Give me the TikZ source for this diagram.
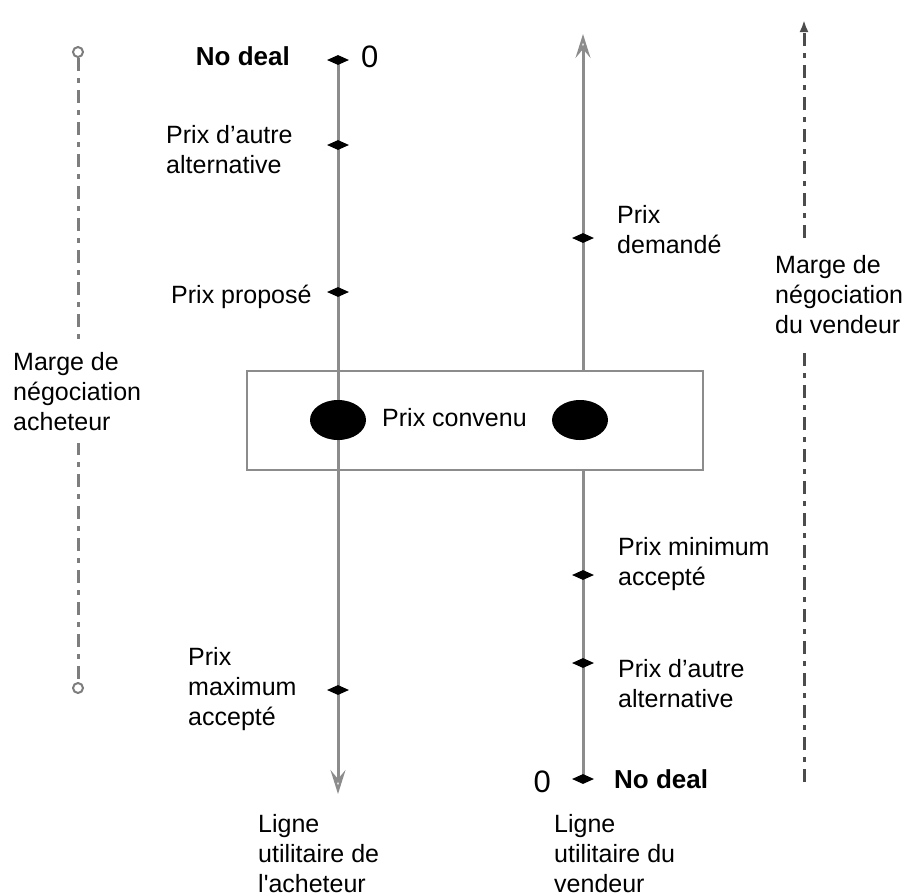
\documentclass[tikz,border=0pt]{standalone}
\usepackage{fontspec}
\setmainfont{Liberation Sans}[Ligatures=TeXOff]
\usetikzlibrary{shapes.geometric,arrows.meta}
\definecolor{axcol}{RGB}{140,140,140}
\definecolor{dashcol}{RGB}{125,125,125}
\begin{document}
\begin{tikzpicture}[x=1pt,y=-1pt,
  lbl/.style={anchor=north west,inner sep=0pt,align=left,font=\fontsize{25}{30}\selectfont},
  marginlbl/.style={lbl,fill=white,inner ysep=12pt,inner xsep=0pt},
  axisline/.style={draw=axcol,line width=3pt},
  openarrow/.style={-{Stealth[open,length=24pt,width=15pt,inset=9pt,line width=2.5pt]}},
  tickmark/.style={diamond,fill=black,minimum width=22pt,minimum height=10pt,inner sep=0pt},
  dealdot/.style={ellipse,fill=black,minimum width=56pt,minimum height=40pt,inner sep=0pt},
  margin/.style={draw=dashcol,line width=3pt,dash pattern=on 13pt off 7pt on 5pt off 7pt},
  endcirc/.style={circle,draw=dashcol,line width=2pt,minimum size=10pt,inner sep=0pt,fill=white},
  zero/.style={inner sep=0pt,font=\fontsize{31}{31}\selectfont},
  nodeal/.style={inner sep=0pt,font=\fontsize{26}{30}\selectfont\bfseries}
]
\useasboundingbox (0,0) rectangle (910,895);

% agreement box
\node[draw=axcol,line width=2pt,minimum width=456pt,minimum height=99pt,inner sep=0pt] (box) at (475,420.5) {};

% buyer line
\coordinate (bTop) at (338,60);
\coordinate (bEnd) at (338,794);
\draw[axisline,openarrow] (bTop) -- (bEnd);
\node[tickmark] (bNo) at (338,60) {};
\node[tickmark] (bAlt) at (338,145) {};
\node[tickmark] (bProp) at (338,292) {};
\node[tickmark] (bMax) at (338,690) {};
\node[dealdot] (bDeal) at (338,420) {};

% seller line
\coordinate (sBot) at (583,779);
\coordinate (sBoxBot) at (583,470);
\coordinate (sBoxTop) at (583,371);
\coordinate (sEnd) at (583,34);
\draw[axisline] (sBot) -- (sBoxBot);
\draw[axisline,openarrow] (sBoxTop) -- (sEnd);
\node[tickmark] (sNo) at (583,779) {};
\node[tickmark] (sAlt) at (583,663) {};
\node[tickmark] (sMin) at (583,575) {};
\node[tickmark] (sAsk) at (583,238) {};
\node[dealdot] (sDeal) at (580,420) {};

% buyer margin
\node[endcirc] (mbTop) at (78,52) {};
\node[endcirc] (mbBot) at (78,688) {};
\draw[margin] (mbTop) -- (mbBot);

% seller margin
\coordinate (msBot) at (804,782);
\coordinate (msTop) at (804,20);
\draw[margin,draw=black!70,-{Latex[length=12pt,width=9pt]}] (msBot) -- (msTop);

% margin texts (white background interrupts the dashed lines)
\node[marginlbl] (tMB) at (13,340) {Marge de\\négociation\\acheteur};
\node[marginlbl] (tMS) at (775,243) {Marge de\\négociation\\du vendeur};

% texts
\node[nodeal,anchor=base east] (tNoL) at (290,65) {No deal};
\node[zero,anchor=base west] (tZeroL) at (361,67) {0};
\node[lbl] (tAltL) at (166,125) {Prix d’autre\\alternative};
\node[lbl] (tProp) at (171,285) {Prix proposé};
\node[lbl] (tMax) at (188,647) {Prix\\maximum\\accepté};
\node[lbl] (tAsk) at (617,205) {Prix\\demandé};
\node[lbl] (tMin) at (618,537) {Prix minimum\\accepté};
\node[lbl] (tAltR) at (618,659) {Prix d’autre\\alternative};
\node[zero,anchor=base east] (tZeroR) at (551,792) {0};
\node[nodeal,anchor=base west] (tNoR) at (614,788) {No deal};
\node[lbl] (tConv) at (382,408) {Prix convenu};
\node[lbl] (tLB) at (258,814) {Ligne\\utilitaire de\\l'acheteur};
\node[lbl] (tLS) at (554,814) {Ligne\\utilitaire du\\vendeur};
\end{tikzpicture}
\end{document}
